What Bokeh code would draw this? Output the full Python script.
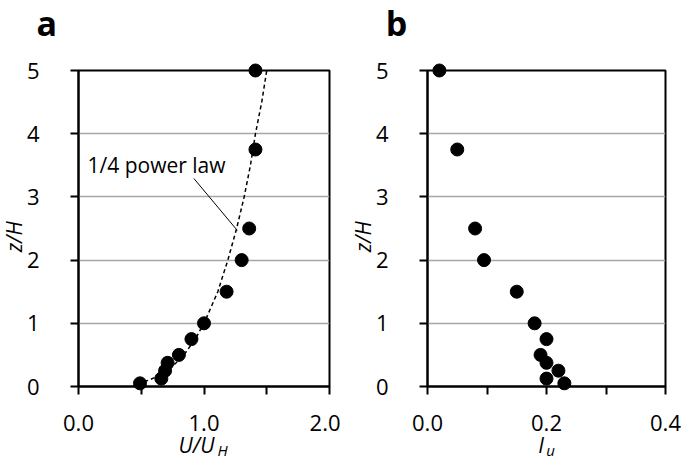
import math
from bokeh.plotting import figure
from bokeh.layouts import row
from bokeh.models import Range1d, FixedTicker, PrintfTickFormatter
from bokeh.core.properties import value
from bokeh.embed import file_html
from bokeh.resources import INLINE

# ---- data ----
z_h = [0.05, 0.125, 0.25, 0.375, 0.5, 0.75, 1.0, 1.5, 2.0, 2.5, 3.75, 5.0]
u_uh = [0.49, 0.66, 0.69, 0.71, 0.80, 0.90, 1.00, 1.18, 1.30, 1.36, 1.41, 1.41]
i_u = [0.23, 0.20, 0.22, 0.20, 0.19, 0.20, 0.18, 0.15, 0.095, 0.08, 0.05, 0.02]

# 1/4 power law curve
law_z = [0.05, 0.1, 0.2, 0.3, 0.5, 0.75, 1.0, 1.5, 2.0, 2.5, 3.0, 3.5, 4.0, 4.5, 5.0]
law_u = [0.47, 0.56, 0.67, 0.74, 0.84, 0.93, 1.00, 1.11, 1.19, 1.26, 1.32, 1.37, 1.41, 1.46, 1.50]

y_ticks = [0, 1, 2, 3, 4, 5]
grid_ticks = [1, 2, 3, 4]
xa_ticks = [0, 1, 2]
xa_minor = [0.5, 1.5]
xb_ticks = [0, 0.2, 0.4]
xb_minor = [0.1, 0.3]

FONT = "Open Sans"
TICK_SIZE = "22px"


def make_fig(width, xr, xt, xm, left, right):
    p = figure(width=width, height=463, x_range=Range1d(*xr), y_range=Range1d(0, 5),
               output_backend="svg", toolbar_location=None,
               min_border_left=left, min_border_right=right,
               min_border_top=70, min_border_bottom=77)
    p.outline_line_color = "black"
    p.outline_line_width = 2
    p.outline_line_alpha = 1
    p.background_fill_color = "white"
    p.border_fill_color = "white"
    p.xgrid.visible = False
    p.ygrid.ticker = FixedTicker(ticks=grid_ticks)
    p.ygrid.grid_line_color = "#a6a6a6"
    p.ygrid.grid_line_width = 1.5
    for ax in (p.xaxis[0], p.yaxis[0]):
        ax.axis_line_color = "black"
        ax.axis_line_width = 2
        ax.major_tick_line_color = "black"
        ax.major_tick_line_width = 2
        ax.major_tick_in = 0
        ax.major_tick_out = 8
        ax.minor_tick_line_color = "black"
        ax.minor_tick_line_width = 2
        ax.minor_tick_in = 0
        ax.minor_tick_out = 8
        ax.major_label_text_font = FONT
        ax.major_label_text_font_size = TICK_SIZE
        ax.major_label_text_color = "black"
    p.xaxis.ticker = FixedTicker(ticks=xt, minor_ticks=xm)
    p.xaxis.formatter = PrintfTickFormatter(format="%.1f")
    p.xaxis.major_label_standoff = 20
    p.yaxis.ticker = FixedTicker(ticks=y_ticks, minor_ticks=[])
    p.yaxis.major_label_standoff = 31
    return p


def txt(p, x, y, text, size="21px", style="normal", align="left", baseline="alphabetic", angle=0.0):
    r = p.text(x=[x], y=[y], text=[text], text_font=value(FONT), text_font_size=size,
               text_font_style=style, text_align=align, text_baseline=baseline,
               angle=angle, text_color="black")
    r.level = "overlay"
    return r


# ---- panel a ----
pa = make_fig(340, (0, 2), xa_ticks, xa_minor, 78, 11)
pa.line(law_u, law_z, line_color="black", line_width=1.5, line_dash="4 3")
ra = pa.scatter(u_uh, z_h, marker="circle", size=13, fill_color="black", line_color="black")
ra.level = "overlay"
pa.line([0.92, 1.265], [3.29, 2.47], line_color="black", line_width=1)
txt(pa, 0.072, 3.50, "1/4 power law")
txt(pa, -0.335, 5.75, "a", size="34px", style="bold")
txt(pa, -0.51, 2.37, "z/H", style="italic", align="center", baseline="middle", angle=math.pi / 2)
txt(pa, 0.797, -0.93, "U/U", style="italic")
txt(pa, 1.108, -1.01, "H", size="15px", style="italic")

# ---- panel b ----
pb = make_fig(343, (0, 0.4), xb_ticks, xb_minor, 87, 18)
rb = pb.scatter(i_u, z_h, marker="circle", size=13, fill_color="black", line_color="black")
rb.level = "overlay"
txt(pb, -0.07, 5.75, "b", size="34px", style="bold")
txt(pb, -0.108, 2.37, "z/H", style="italic", align="center", baseline="middle", angle=math.pi / 2)
txt(pb, 0.186, -0.93, "I", style="italic")
txt(pb, 0.1995, -1.01, "u", size="15px", style="italic")

layout = row(pa, pb)
open("out.html", "w").write(file_html(layout, INLINE))
